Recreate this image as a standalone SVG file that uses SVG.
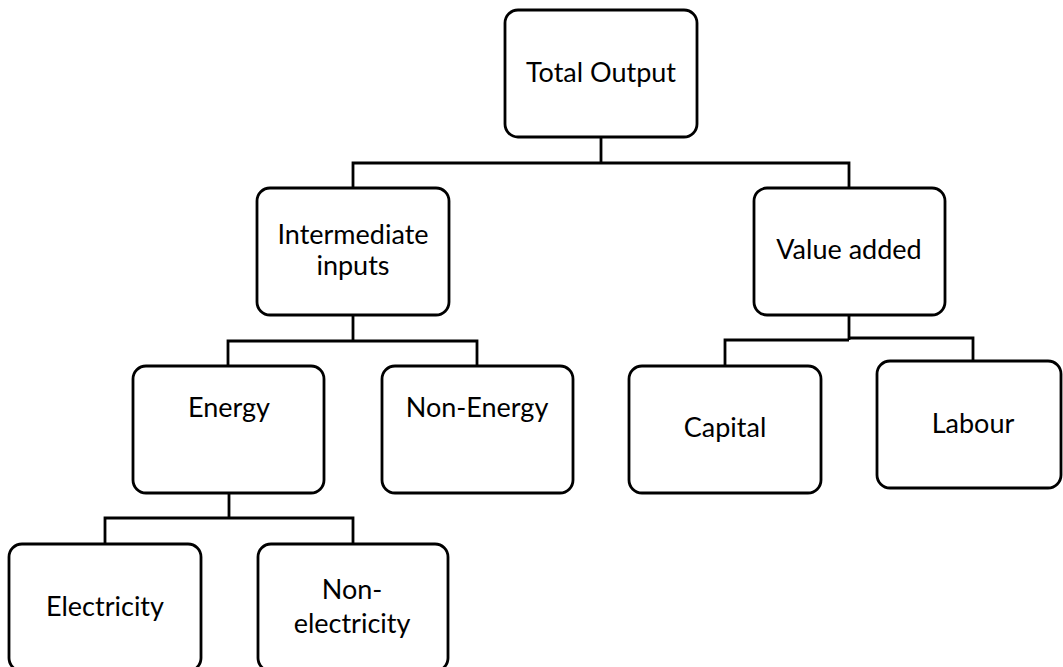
<svg xmlns="http://www.w3.org/2000/svg" width="1063" height="667" viewBox="0 0 1063 667">
<style>
.box{fill:#fff;stroke:#000;stroke-width:2.8}
.c{fill:none;stroke:#000;stroke-width:2.8}
text{font-family:Lato,"Open Sans",sans-serif;font-size:27px;fill:#000;text-anchor:middle}
</style>
<rect width="1063" height="667" fill="#fff"/>
<g id="connectors">
<path class="c" d="M601 137 V163 M353 188 V163 H849 V188"/>
<path class="c" d="M353 315 V341 M228 366 V341 H477 V366"/>
<path class="c" d="M849 315 V340 M725 366 V340 H849 M849 338 H973 V361"/>
<path class="c" d="M229 493 V518 M105 544 V518 H353 V544"/>
</g>
<g id="total-output"><rect class="box" x="505" y="10" width="192" height="127" rx="13"/><text x="601" y="82">Total Output</text></g>
<g id="intermediate-inputs"><rect class="box" x="257" y="188" width="192" height="127" rx="13"/><text x="353" y="244">Intermediate</text><text x="353" y="275">inputs</text></g>
<g id="value-added"><rect class="box" x="754" y="188" width="191" height="127" rx="13"/><text x="849" y="259">Value added</text></g>
<g id="energy"><rect class="box" x="133" y="366" width="191" height="127" rx="13"/><text x="229" y="417">Energy</text></g>
<g id="non-energy"><rect class="box" x="382" y="366" width="191" height="127" rx="13"/><text x="477" y="417">Non-Energy</text></g>
<g id="capital"><rect class="box" x="629" y="366" width="192" height="127" rx="13"/><text x="725" y="437">Capital</text></g>
<g id="labour"><rect class="box" x="877" y="361" width="184" height="127" rx="13"/><text x="973" y="433">Labour</text></g>
<g id="electricity"><rect class="box" x="9" y="544" width="192" height="127" rx="13"/><text x="105" y="616">Electricity</text></g>
<g id="non-electricity"><rect class="box" x="258" y="544" width="190" height="127" rx="13"/><text x="352" y="599">Non-</text><text x="352" y="633">electricity</text></g>
</svg>
